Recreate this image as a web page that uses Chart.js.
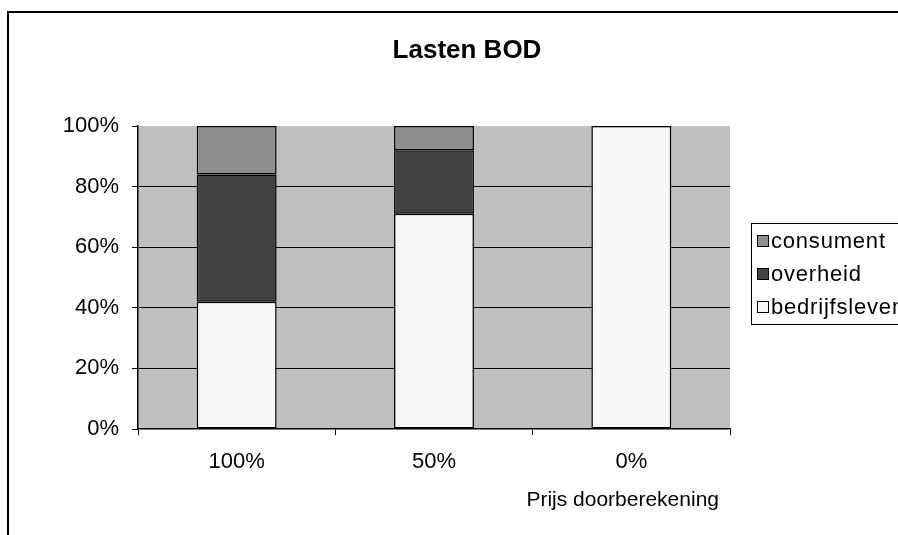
<!DOCTYPE html>
<html>
<head>
<meta charset="utf-8">
<script src="https://cdn.jsdelivr.net/npm/chart.js@4.4.1/dist/chart.umd.min.js"></script>
<style>
  html, body { margin: 0; padding: 0; background: #ffffff; }
  #wrap { width: 898px; height: 535px; }
</style>
</head>
<body>
<div id="wrap"><canvas id="c" width="898" height="535"></canvas></div>
<script>
// Categories: share of the price passed on
const categories = ['100%', '50%', '0%'];
// Share of the burden (%) per party
const bedrijfsleven = [42, 71, 100];
const overheid = [42, 21, 0];
const consument = [16, 8, 0];
const yTicks = [0, 20, 40, 60, 80, 100];

const FONT = "'Liberation Sans', Arial, sans-serif";

// Frame, plot background, title, axis title and legend
const decor = {
  id: 'decor',
  beforeDraw(chart) {
    const { ctx, chartArea: a } = chart;
    ctx.save();
    ctx.fillStyle = '#ffffff';
    ctx.fillRect(0, 0, chart.width, chart.height);
    ctx.fillStyle = '#c0c0c0';
    ctx.fillRect(a.left, a.top, a.right - a.left, a.bottom - a.top);
    ctx.restore();
  },
  afterDraw(chart) {
    const { ctx } = chart;
    ctx.save();
    // outer frame (runs past the canvas on the right and bottom)
    ctx.strokeStyle = '#000000';
    ctx.lineWidth = 2;
    ctx.beginPath();
    ctx.moveTo(8, chart.height + 5);
    ctx.lineTo(8, 12);
    ctx.lineTo(chart.width + 5, 12);
    ctx.stroke();

    // title
    ctx.fillStyle = '#000000';
    ctx.font = 'bold 26px ' + FONT;
    ctx.textAlign = 'center';
    ctx.textBaseline = 'middle';
    ctx.fillText('Lasten BOD', 467, 51);

    // x axis title
    ctx.font = '21px ' + FONT;
    ctx.textAlign = 'right';
    ctx.fillText('Prijs doorberekening', 719, 500);

    // legend
    const lx = 751, ly = 223, lw = 170, lh = 101;
    ctx.fillStyle = '#ffffff';
    ctx.fillRect(lx, ly, lw, lh);
    ctx.lineWidth = 1;
    ctx.strokeStyle = '#000000';
    ctx.strokeRect(lx + 0.5, ly + 0.5, lw, lh);
    const ds = chart.data.datasets.slice().reverse();
    ctx.font = '22px ' + FONT;
    ctx.letterSpacing = '0.8px';
    ctx.textAlign = 'left';
    ctx.textBaseline = 'middle';
    ds.forEach((d, i) => {
      const cy = ly + 18 + i * 33;
      ctx.fillStyle = d.backgroundColor;
      ctx.fillRect(757.5, cy - 5.5, 11, 11);
      ctx.strokeStyle = '#000000';
      ctx.strokeRect(757.5, cy - 5.5, 11, 11);
      ctx.fillStyle = '#000000';
      ctx.fillText(d.label, 771, cy + 1);
    });
    ctx.restore();
  }
};

new Chart(document.getElementById('c'), {
  type: 'bar',
  data: {
    labels: categories,
    datasets: [
      { label: 'bedrijfsleven', data: bedrijfsleven, backgroundColor: '#f8f8f8' },
      { label: 'overheid', data: overheid, backgroundColor: '#424242' },
      { label: 'consument', data: consument, backgroundColor: '#8e8e8e' }
    ].map(d => Object.assign(d, {
      borderColor: '#000000',
      borderWidth: 1.5,
      borderSkipped: false,
      barPercentage: 0.405,
      categoryPercentage: 1.0
    }))
  },
  options: {
    responsive: false,
    animation: false,
    devicePixelRatio: 1,
    layout: { padding: { left: 0, top: 126, right: 168, bottom: 0 } },
    plugins: {
      legend: { display: false },
      title: { display: false },
      tooltip: { enabled: false }
    },
    scales: {
      x: {
        stacked: true,
        afterFit(s) { s.height = 535 - 429; },
        grid: {
          offset: true,
          drawOnChartArea: false,
          drawTicks: true,
          tickLength: 6,
          tickColor: '#000000'
        },
        border: { display: true, color: '#000000', width: 1.5 },
        ticks: {
          color: '#000000',
          font: { family: FONT, size: 22 },
          padding: 14
        }
      },
      y: {
        stacked: true,
        min: 0,
        max: 100,
        afterFit(s) { s.width = 138; },
        afterBuildTicks(s) { s.ticks = yTicks.map(v => ({ value: v })); },
        grid: {
          color: ctx => (ctx.tick && (ctx.tick.value === 0 || ctx.tick.value === 100)) ? 'rgba(0,0,0,0)' : '#000000',
          tickColor: '#000000',
          drawTicks: true,
          tickLength: 6,
          lineWidth: 1
        },
        border: { display: true, color: '#000000', width: 1.5 },
        ticks: {
          color: '#000000',
          font: { family: FONT, size: 22 },
          padding: 13,
          callback: v => v + '%'
        }
      }
    }
  },
  plugins: [decor]
});
</script>
</body>
</html>
